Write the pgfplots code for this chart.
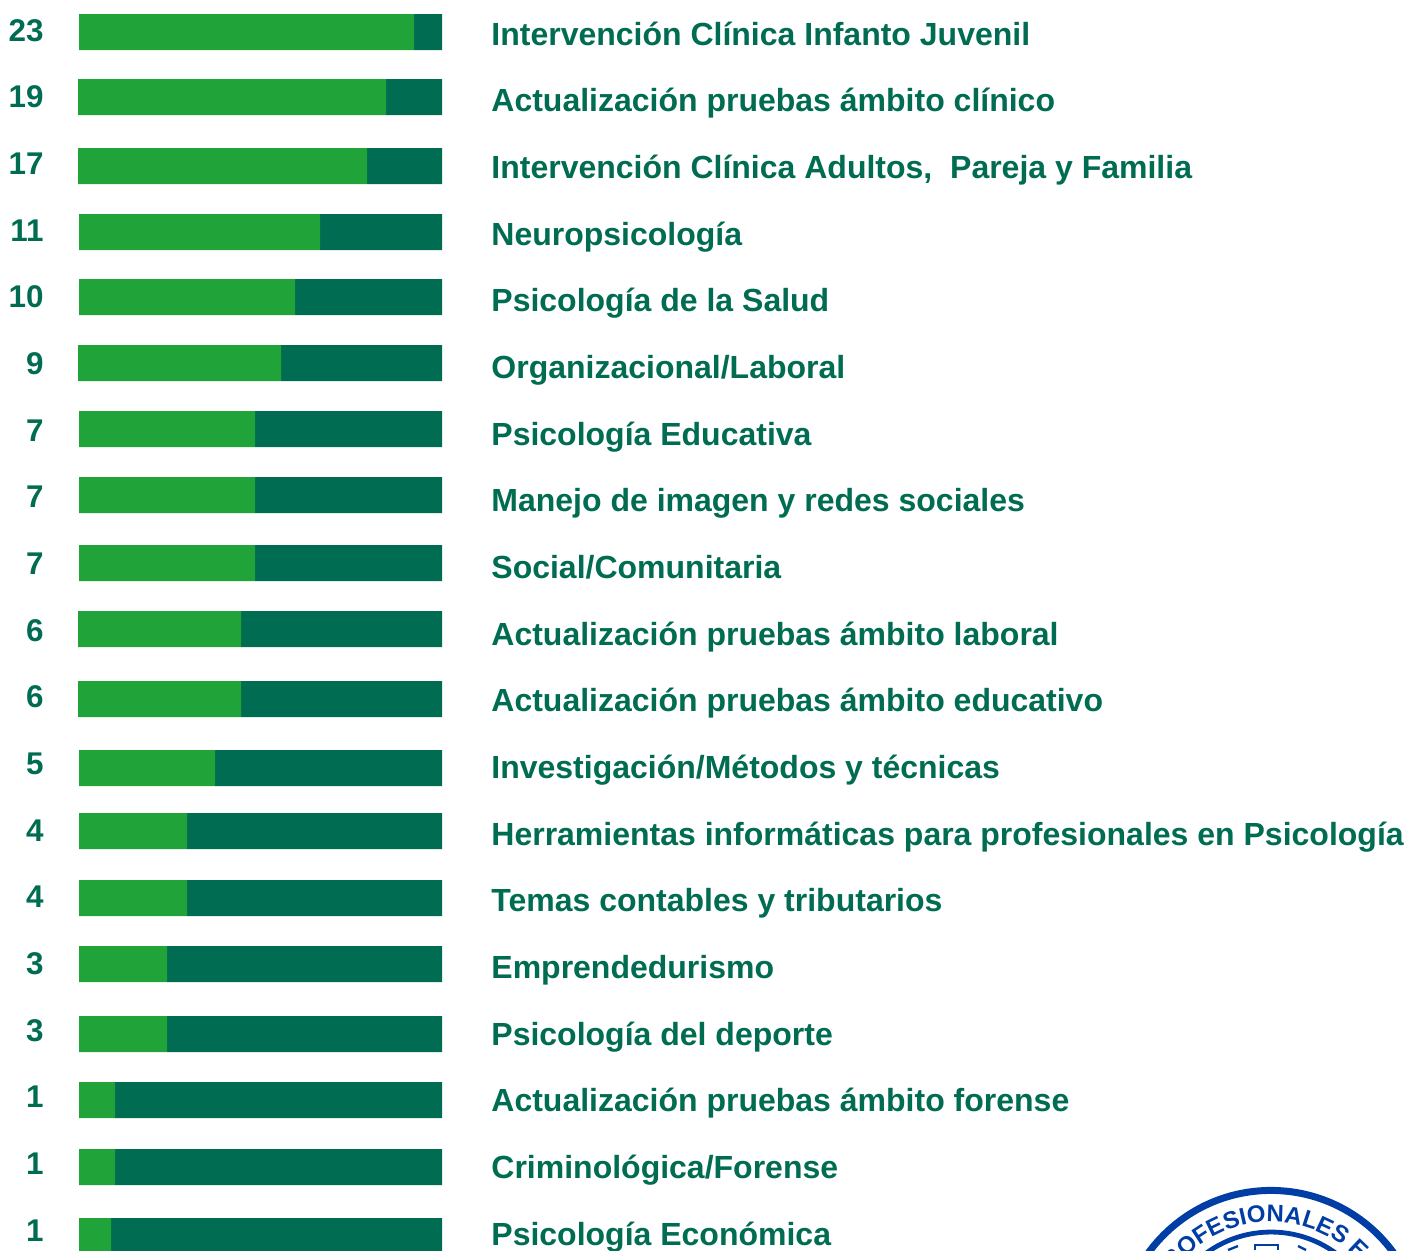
\documentclass[border=0pt]{standalone}
\usepackage{pgfplots}
\usepackage{pgfplotstable}
\usepackage{fontspec}
\setmainfont{Liberation Sans}
\pgfplotsset{compat=1.18}
\usetikzlibrary{decorations.text}
\definecolor{barg}{HTML}{20A338}
\definecolor{bard}{HTML}{006C51}
\definecolor{logob}{HTML}{003DA5}
\pgfplotstableread{
y x0 g d
32 79 335 28
97 78 308 56
166 78 289 75
232 79 241 122
297 79 216 147
363 78 203 161
429 79 176 187
495 79 176 187
563 79 176 187
629 78 163 201
699 78 163 201
768 79 136 227
831 79 108 255
898 79 108 255
964 79 88 275
1034 79 88 275
1100 79 36 327
1167 79 36 327
1236 79 32 331
}\bars
\newcommand{\cat}[2]{\node[anchor=base west,inner sep=0pt,text=bard,font=\fontsize{16pt}{18pt}\selectfont\bfseries] at (axis cs:491,#1-1) {#2};}
\newcommand{\num}[2]{\node[anchor=base east,inner sep=0pt,text=bard,font=\fontsize{15.7pt}{18pt}\selectfont\bfseries] at (axis cs:44,#1-1) {#2};}
\begin{document}
\begin{tikzpicture}
\useasboundingbox (0,0) rectangle (711pt,625pt);
\clip (0,0) rectangle (711pt,625pt);
\begin{axis}[
  at={(0,0)},anchor=south west,
  scale only axis,width=711pt,height=625pt,
  xmin=0,xmax=1422,ymin=0,ymax=1250,
  y dir=reverse,
  hide axis,
  xbar stacked,
  bar width=36,
  clip=false,
]
\addplot[draw=none,fill=none] table[x=x0,y=y]{\bars};
\addplot[draw=none,fill=barg] table[x=g,y=y]{\bars};
\addplot[draw=none,fill=bard] table[x=d,y=y]{\bars};
\num{42}{23}\num{108}{19}\num{175}{17}\num{242}{11}\num{308}{10}\num{375}{9}
\num{442}{7}\num{508}{7}\num{575}{7}\num{642}{6}\num{708}{6}\num{775}{5}
\num{842}{4}\num{908}{4}\num{975}{3}\num{1042}{3}\num{1108}{1}\num{1175}{1}\num{1242}{1}
\cat{46}{Intervención Clínica Infanto Juvenil}
\cat{112}{Actualización pruebas ámbito clínico}
\cat{179}{Intervención Clínica Adultos,\ \ Pareja y Familia}
\cat{246}{Neuropsicología}
\cat{312}{Psicología de la Salud}
\cat{379}{Organizacional/Laboral}
\cat{446}{Psicología Educativa}
\cat{512}{Manejo de imagen y redes sociales}
\cat{579}{Social/Comunitaria}
\cat{646}{Actualización pruebas ámbito laboral}
\cat{712}{Actualización pruebas ámbito educativo}
\cat{779}{Investigación/Métodos y técnicas}
\cat{846}{Herramientas informáticas para profesionales en Psicología}
\cat{912}{Temas contables y tributarios}
\cat{979}{Emprendedurismo}
\cat{1046}{Psicología del deporte}
\cat{1112}{Actualización pruebas ámbito forense}
\cat{1179}{Criminológica/Forense}
\cat{1246}{Psicología Económica}
\draw[logob,line width=3.5pt] (axis cs:1271,1342) circle[radius=75.8pt];
\draw[logob,line width=2.4pt] (axis cs:1271,1342) circle[radius=55pt];
\path[decorate,decoration={text along path,text align=center,
  text={|\fontsize{12pt}{14pt}\selectfont\bfseries\color{logob}|PROFESIONALES E}}]
  (axis cs:1271,1342) ++(155:60pt) arc[start angle=155,end angle=39,radius=60pt];
\draw[logob,line width=1.2pt] (axis cs:1255,1250) -- (axis cs:1255,1245) -- (axis cs:1278,1245) -- (axis cs:1278,1250);
\draw[logob,line width=1.2pt] (axis cs:1228,1250) -- (axis cs:1238,1246);
\draw[logob,line width=1.2pt] (axis cs:1298,1246) -- (axis cs:1306,1250);
\end{axis}
\end{tikzpicture}
\end{document}
